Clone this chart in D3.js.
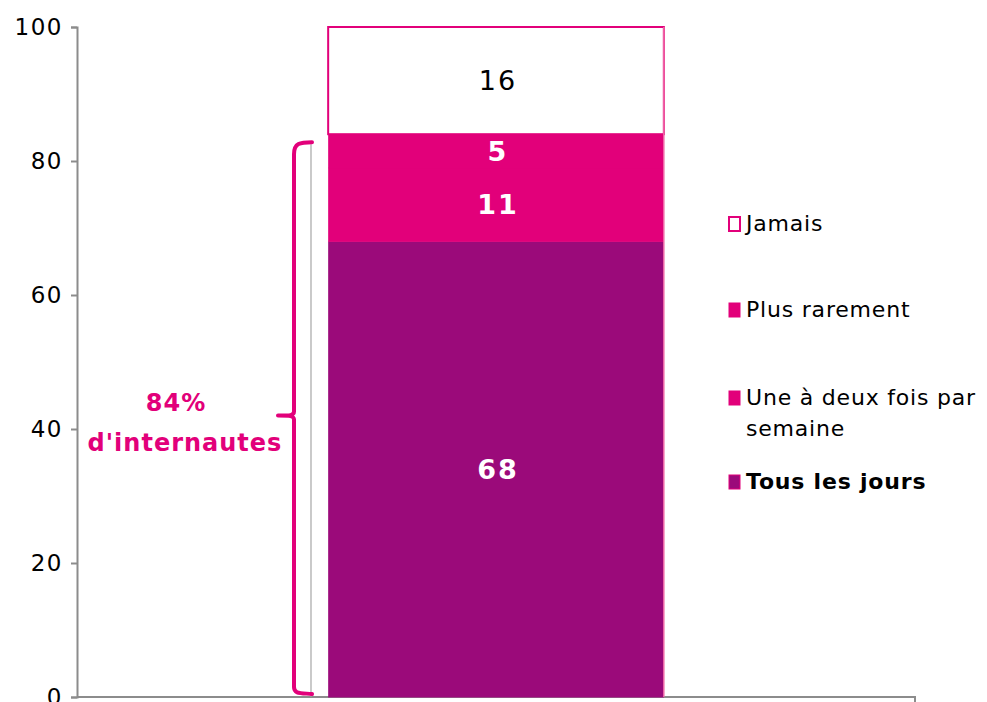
<!DOCTYPE html>
<html>
<head>
<meta charset="utf-8">
<script src="https://cdn.jsdelivr.net/npm/d3@7"></script>
<style>
  body { margin: 0; background: #fff; }
  text { font-family: Verdana, "DejaVu Sans", sans-serif; }
</style>
</head>
<body>
<div id="chart"></div>
<script>
// Données
const categories = ["Tous les jours", "Une à deux fois par semaine", "Plus rarement", "Jamais"];
const values = [68, 11, 5, 16];
const yTicks = [0, 20, 40, 60, 80, 100];
const annotation = ["84%", "d'internautes"];
const annotationValue = 84;

// Couleurs
const fills = ["#9B0A7A", "#E2007A", "#E2007A", "#FFFFFF"];
const pink = "#E2007A";

const width = 987, height = 702;
const svg = d3.select("#chart").append("svg")
  .attr("width", width)
  .attr("height", height);

const y = d3.scaleLinear().domain([0, 100]).range([697, 27]);
const x = d3.scaleBand().domain(["all"]).range([77, 915]).padding(0.428);

// Axe Y
const yAxis = svg.append("g")
  .attr("transform", "translate(77,0)")
  .call(d3.axisLeft(y).tickValues(yTicks).tickSize(6).tickPadding(8));
yAxis.selectAll("line, path").attr("stroke", "#8c8c8c").attr("stroke-width", 2);
yAxis.selectAll("text").attr("font-size", 23).attr("fill", "#000")
  .attr("letter-spacing", 1.5)
  .style("font-family", "Verdana, 'DejaVu Sans', sans-serif");

// Axe X
const xAxis = svg.append("g")
  .attr("transform", "translate(0,697)")
  .call(d3.axisBottom(x).tickSize(0).tickFormat(""));
xAxis.select("path").attr("d", "M77,0H915V6").attr("stroke", "#8c8c8c").attr("stroke-width", 2).attr("fill", "none");

// Empilement
let acc = 0;
const stacked = values.map((v, i) => {
  const d = { v, y0: acc, y1: acc + v, i };
  acc += v;
  return d;
});

const bx = x("all"), bw = x.bandwidth();

svg.selectAll(".seg")
  .data(stacked)
  .enter().append("rect")
  .attr("class", "seg")
  .attr("x", bx)
  .attr("width", bw)
  .attr("y", d => y(d.y1))
  .attr("height", d => y(d.y0) - y(d.y1) + (d.i === 3 ? 0 : 0.5))
  .attr("fill", d => fills[d.i])
  .attr("stroke", d => d.i === 3 ? pink : "none")
  .attr("stroke-width", 2);

// contour du bord droit
svg.append("line")
  .attr("x1", bx + bw).attr("x2", bx + bw)
  .attr("y1", y(100)).attr("y2", y(0))
  .attr("stroke", "#f06aa8").attr("stroke-width", 1.5);

svg.selectAll(".lbl")
  .data(stacked)
  .enter().append("text")
  .attr("x", bx + bw / 2 + 2)
  .attr("y", d => (y(d.y0) + y(d.y1)) / 2)
  .attr("dy", "0.36em")
  .attr("text-anchor", "middle")
  .attr("font-size", 27)
  .attr("letter-spacing", 2)
  .attr("font-weight", d => d.i === 3 ? "normal" : "bold")
  .attr("fill", d => d.i === 3 ? "#000" : "#fff")
  .text(d => d.v);

// Accolade
const bTop = y(annotationValue) + 14, bBot = y(0) - 4, bMid = y(annotationValue / 2);
const bxL = 294;
svg.append("line")
  .attr("x1", 311).attr("x2", 311)
  .attr("y1", y(annotationValue) + 10).attr("y2", y(0))
  .attr("stroke", "#a6a6a6").attr("stroke-width", 1.2);

svg.append("path")
  .attr("d", `M312,${bTop - 6} C300,${bTop - 6} ${bxL},${bTop - 5} ${bxL},${bTop + 6}
              L${bxL},${bMid - 4} C${bxL},${bMid} ${bxL - 4},${bMid} ${bxL - 16},${bMid}
              M${bxL},${bMid + 4} C${bxL},${bMid} ${bxL - 4},${bMid} ${bxL - 16},${bMid}
              M${bxL},${bMid + 4} L${bxL},${bBot - 6} C${bxL},${bBot + 1} 300,${bBot} 312,${bBot + 1}`)
  .attr("fill", "none")
  .attr("stroke", pink)
  .attr("stroke-width", 4)
  .attr("stroke-linecap", "round");

const annX = [176, 185];
svg.append("text")
  .attr("y", 411)
  .attr("text-anchor", "middle")
  .attr("font-size", 24).attr("font-weight", "bold").attr("fill", pink)
  .attr("letter-spacing", 1)
  .selectAll("tspan")
  .data(annotation)
  .enter().append("tspan")
  .attr("x", (d, i) => annX[i])
  .attr("dy", (d, i) => i ? 40 : 0)
  .text(d => d);

// Légende
const legendY = [223, 309, 397, 481];
const legendOrder = [3, 2, 1, 0];
const legend = svg.selectAll(".leg")
  .data(legendOrder)
  .enter().append("g")
  .attr("transform", (d, k) => `translate(728,${legendY[k]})`);

legend.append("rect")
  .attr("x", 1).attr("y", -6)
  .attr("width", 11).attr("height", 14)
  .attr("fill", d => fills[d])
  .attr("stroke", pink).attr("stroke-width", d => d === 3 ? 2 : 1);

legend.append("text")
  .attr("x", 18)
  .attr("dy", "0.36em")
  .attr("font-size", 22)
  .attr("letter-spacing", 0.8)
  .attr("font-weight", d => d === 0 ? "bold" : "normal")
  .attr("fill", "#000")
  .each(function(d) {
    const t = d3.select(this);
    if (d === 1) {
      t.append("tspan").attr("x", 18).text("Une à deux fois par");
      t.append("tspan").attr("x", 18).attr("dy", 31).text("semaine");
    } else {
      t.text(categories[d]);
    }
  });
</script>
</body>
</html>
